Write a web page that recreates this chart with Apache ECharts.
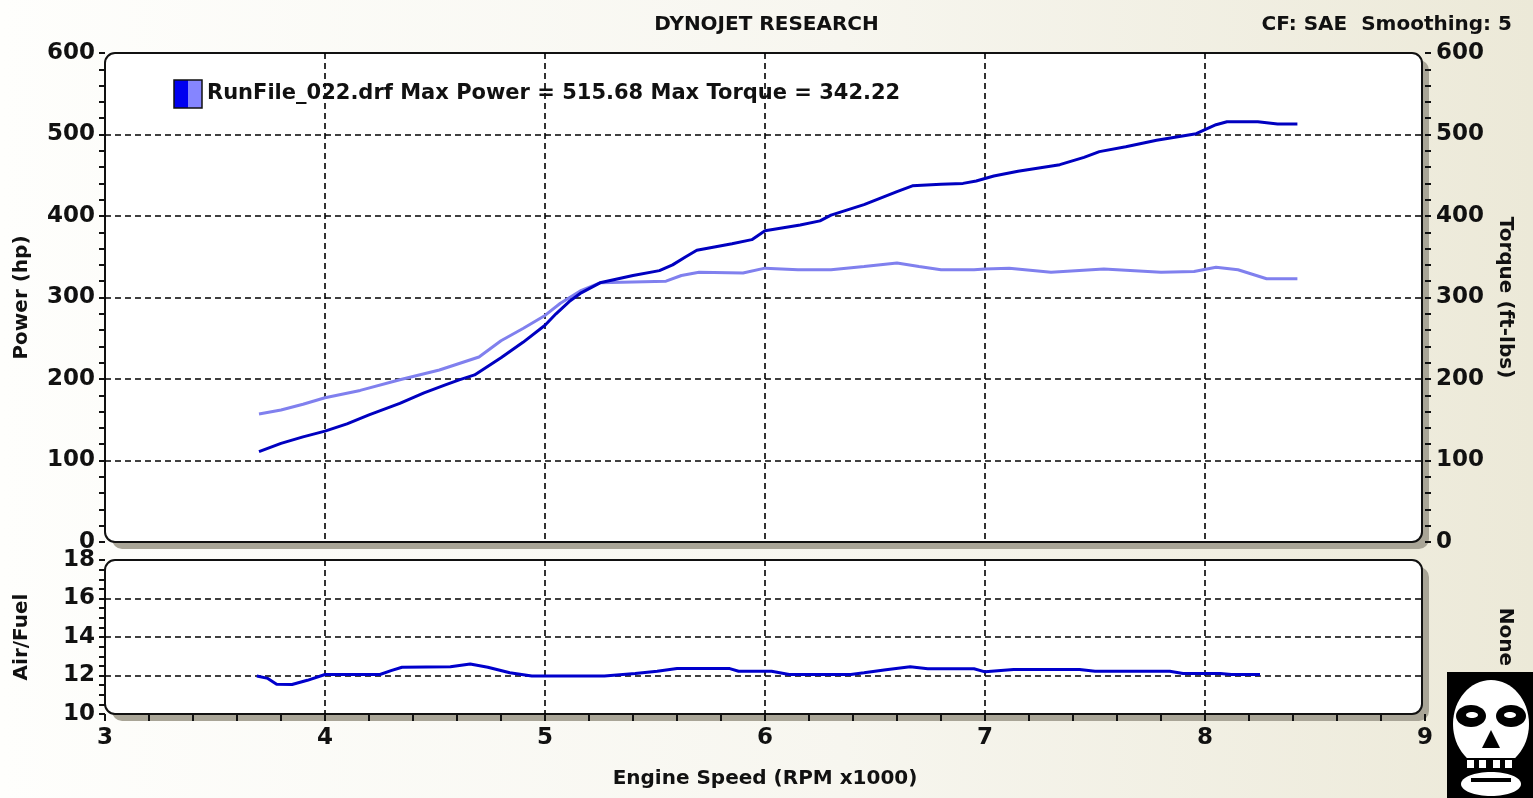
<!DOCTYPE html>
<html>
<head>
<meta charset="utf-8">
<script src="https://cdn.jsdelivr.net/npm/echarts@6/dist/echarts.min.js"></script>
<style>
html,body{margin:0;padding:0;}
#c{width:1533px;height:798px;background:linear-gradient(to right,#fefefc 0%,#f7f6ef 55%,#ece9d8 100%);}
</style>
</head>
<body>
<div id="c"></div>
<script>
// ---- data ----
const xTicks = [3, 4, 5, 6, 7, 8, 9];
const rpmPower = [3.70,3.80,3.90,4.00,4.10,4.20,4.34,4.45,4.55,4.61,4.68,4.80,4.90,5.00,5.05,5.11,5.16,5.25,5.40,5.52,5.58,5.64,5.69,5.85,5.94,6.00,6.16,6.25,6.30,6.45,6.60,6.67,6.80,6.90,6.96,7.04,7.15,7.34,7.45,7.52,7.64,7.78,7.96,8.00,8.05,8.10,8.24,8.33,8.42];
const power = [111,121,129,136,145,156,170,183,193,199,205,226,245,266,280,295,305,318,327,333,340,350,358,366,371,382,389,394,401,414,430,437,439,440,443,449,455,463,472,479,485,493,501,506,512,515.68,515.68,513,513];
const rpmTorque = [3.70,3.80,3.90,4.00,4.16,4.34,4.52,4.61,4.70,4.80,4.90,5.00,5.07,5.16,5.25,5.40,5.55,5.62,5.70,5.90,6.00,6.15,6.30,6.45,6.60,6.70,6.80,6.95,7.00,7.11,7.30,7.54,7.80,7.95,8.05,8.15,8.28,8.42];
const torque = [157,162,169,177,186,199,211,219,227,247,262,278,293,308,318,319,320,327,331,330,336,334,334,338,342.22,338,334,334,335,336,331,335,331,332,337,334,323,323];
const rpmAF = [3.69,3.74,3.78,3.85,3.92,4.00,4.25,4.30,4.35,4.57,4.66,4.74,4.84,4.94,5.27,5.41,5.51,5.60,5.84,5.88,6.03,6.11,6.39,6.45,6.55,6.66,6.74,6.95,7.00,7.13,7.43,7.50,7.84,7.90,8.07,8.12,8.25];
const airFuel = [11.97,11.85,11.55,11.53,11.75,12.05,12.05,12.25,12.43,12.45,12.6,12.43,12.14,11.97,11.98,12.1,12.22,12.36,12.36,12.22,12.22,12.05,12.05,12.14,12.3,12.45,12.35,12.35,12.19,12.31,12.31,12.22,12.22,12.1,12.1,12.05,12.05];
const powerTicks = [0, 100, 200, 300, 400, 500, 600];
const afTicks = [10, 12, 14, 16, 18];
const legendText = 'RunFile_022.drf Max Power = 515.68 Max Torque = 342.22';

const pairs = (xs, ys) => xs.map((x, i) => [x, ys[i]]);
const FONT = 'DejaVu Sans';
const dash = {show: true, showMinLine: false, showMaxLine: false, lineStyle: {color: '#000', width: 1.6, type: [6, 4]}};
const lbl = {color: '#111', fontFamily: FONT, fontWeight: 'bold', fontSize: 23};
const nameStyle = {color: '#111', fontFamily: FONT, fontWeight: 'bold', fontSize: 20};

const G0 = {left: 105, top: 53, width: 1320, height: 489};
const G1 = {left: 105, top: 560, width: 1320, height: 154};

const chart = echarts.init(document.getElementById('c'), null, {renderer: 'canvas'});
const frame = (g) => [
  {type: 'rect', z: -5, shape: {x: g.left + 7, y: g.top + 7, width: g.width - 3, height: g.height, r: 10}, style: {fill: '#a9a597'}},
  {type: 'rect', z: -4, shape: {x: g.left, y: g.top, width: g.width - 3, height: g.height, r: 10}, style: {fill: '#ffffff', stroke: '#111', lineWidth: 2}}
];

// rough skull emblem
const skull = {
  type: 'group', left: 1447, top: 672, z: 5,
  children: [
    {type: 'rect', shape: {x: 0, y: 0, width: 86, height: 126}, style: {fill: '#000'}},
    {type: 'ellipse', shape: {cx: 44, cy: 52, rx: 38, ry: 44}, style: {fill: '#fff'}},
    {type: 'ellipse', shape: {cx: 24, cy: 44, rx: 15, ry: 11}, style: {fill: '#000'}},
    {type: 'ellipse', shape: {cx: 64, cy: 44, rx: 15, ry: 11}, style: {fill: '#000'}},
    {type: 'ellipse', shape: {cx: 25, cy: 43, rx: 6, ry: 3}, style: {fill: '#fff'}},
    {type: 'ellipse', shape: {cx: 63, cy: 43, rx: 6, ry: 3}, style: {fill: '#fff'}},
    {type: 'polygon', shape: {points: [[44, 58], [35, 76], [53, 76]]}, style: {fill: '#000'}},
    {type: 'rect', shape: {x: 14, y: 86, width: 60, height: 12}, style: {fill: '#000'}},
    {type: 'rect', shape: {x: 20, y: 88, width: 7, height: 8}, style: {fill: '#fff'}},
    {type: 'rect', shape: {x: 32, y: 88, width: 7, height: 8}, style: {fill: '#fff'}},
    {type: 'rect', shape: {x: 46, y: 88, width: 7, height: 8}, style: {fill: '#fff'}},
    {type: 'rect', shape: {x: 58, y: 88, width: 7, height: 8}, style: {fill: '#fff'}},
    {type: 'ellipse', shape: {cx: 44, cy: 112, rx: 30, ry: 12}, style: {fill: '#fff'}},
    {type: 'rect', shape: {x: 24, y: 106, width: 40, height: 4}, style: {fill: '#000'}}
  ]
};

const option = {
  animation: false,
  backgroundColor: 'transparent',
  title: [
    {text: 'DYNOJET RESEARCH', left: 'center', top: 10, textStyle: {fontFamily: FONT, fontWeight: 'bold', fontSize: 20, color: '#111'}},
    {text: 'CF: SAE  Smoothing: 5', right: 16, top: 10, textStyle: {fontFamily: FONT, fontWeight: 'bold', fontSize: 20, color: '#111'}}
  ],
  graphic: [
    ...frame(G0), ...frame(G1),
    {type: 'rect', z: 10, shape: {x: 174, y: 80, width: 14, height: 28}, style: {fill: '#0000f0'}},
    {type: 'rect', z: 10, shape: {x: 188, y: 80, width: 14, height: 28}, style: {fill: '#8585ff'}},
    {type: 'rect', z: 11, shape: {x: 174, y: 80, width: 28, height: 28}, style: {fill: 'none', stroke: '#111', lineWidth: 1.5}},
    {type: 'text', z: 10, x: 207, y: 94, style: {text: legendText, fill: '#111', font: 'bold 21px "DejaVu Sans"', verticalAlign: 'middle'}},
    skull
  ],
  grid: [
    {left: G0.left, top: G0.top, width: G0.width, height: G0.height, show: false},
    {left: G1.left, top: G1.top, width: G1.width, height: G1.height, show: false}
  ],
  xAxis: [
    {gridIndex: 0, type: 'value', min: xTicks[0], max: xTicks[xTicks.length - 1], interval: 1,
     axisLine: {show: false}, axisTick: {show: false}, axisLabel: {show: false}, splitLine: dash},
    {gridIndex: 1, type: 'value', min: xTicks[0], max: xTicks[xTicks.length - 1], interval: 1,
     axisLine: {show: false},
     axisTick: {show: true, length: 7, lineStyle: {color: '#111', width: 2}},
     minorTick: {show: true, splitNumber: 5, length: 7, lineStyle: {color: '#111', width: 2}},
     axisLabel: Object.assign({margin: 13}, lbl),
     splitLine: dash,
     name: 'Engine Speed (RPM x1000)', nameLocation: 'middle', nameGap: 55, nameTextStyle: nameStyle}
  ],
  yAxis: [
    {gridIndex: 0, type: 'value', position: 'left', min: powerTicks[0], max: powerTicks[powerTicks.length - 1], interval: 100,
     axisLine: {show: false},
     axisTick: {show: true, length: 6, lineStyle: {color: '#111', width: 2}},
     minorTick: {show: true, splitNumber: 5, length: 6, lineStyle: {color: '#111', width: 2}},
     axisLabel: Object.assign({margin: 10}, lbl), splitLine: dash,
     name: 'Power (hp)', nameLocation: 'middle', nameRotate: 90, nameGap: 73, nameTextStyle: nameStyle},
    {gridIndex: 0, type: 'value', position: 'right', min: powerTicks[0], max: powerTicks[powerTicks.length - 1], interval: 100,
     axisLine: {show: false},
     axisTick: {show: true, length: 6, lineStyle: {color: '#111', width: 2}},
     minorTick: {show: true, splitNumber: 5, length: 6, lineStyle: {color: '#111', width: 2}},
     axisLabel: Object.assign({margin: 11}, lbl), splitLine: {show: false},
     name: 'Torque (ft-lbs)', nameLocation: 'middle', nameRotate: -90, nameGap: 70, nameTextStyle: nameStyle},
    {gridIndex: 1, type: 'value', position: 'left', min: afTicks[0], max: afTicks[afTicks.length - 1], interval: 2,
     axisLine: {show: false},
     axisTick: {show: true, length: 6, lineStyle: {color: '#111', width: 2}},
     minorTick: {show: true, splitNumber: 4, length: 6, lineStyle: {color: '#111', width: 2}},
     axisLabel: Object.assign({margin: 10}, lbl), splitLine: dash,
     name: 'Air/Fuel', nameLocation: 'middle', nameRotate: 90, nameGap: 73, nameTextStyle: nameStyle},
    {gridIndex: 1, type: 'value', position: 'right', min: afTicks[0], max: afTicks[afTicks.length - 1], interval: 2,
     axisLine: {show: false}, axisTick: {show: false}, axisLabel: {show: false}, splitLine: {show: false},
     name: 'None', nameLocation: 'middle', nameRotate: -90, nameGap: 70, nameTextStyle: nameStyle}
  ],
  series: [
    {name: 'Torque', type: 'line', xAxisIndex: 0, yAxisIndex: 1, data: pairs(rpmTorque, torque), showSymbol: false,
     lineStyle: {color: '#8080ee', width: 3}, z: 3},
    {name: 'Power', type: 'line', xAxisIndex: 0, yAxisIndex: 0, data: pairs(rpmPower, power), showSymbol: false,
     lineStyle: {color: '#0000c0', width: 3}, z: 4},
    {name: 'Air/Fuel', type: 'line', xAxisIndex: 1, yAxisIndex: 2, data: pairs(rpmAF, airFuel), showSymbol: false,
     lineStyle: {color: '#0000cc', width: 3}, z: 4}
  ]
};
chart.setOption(option);
</script>
</body>
</html>
